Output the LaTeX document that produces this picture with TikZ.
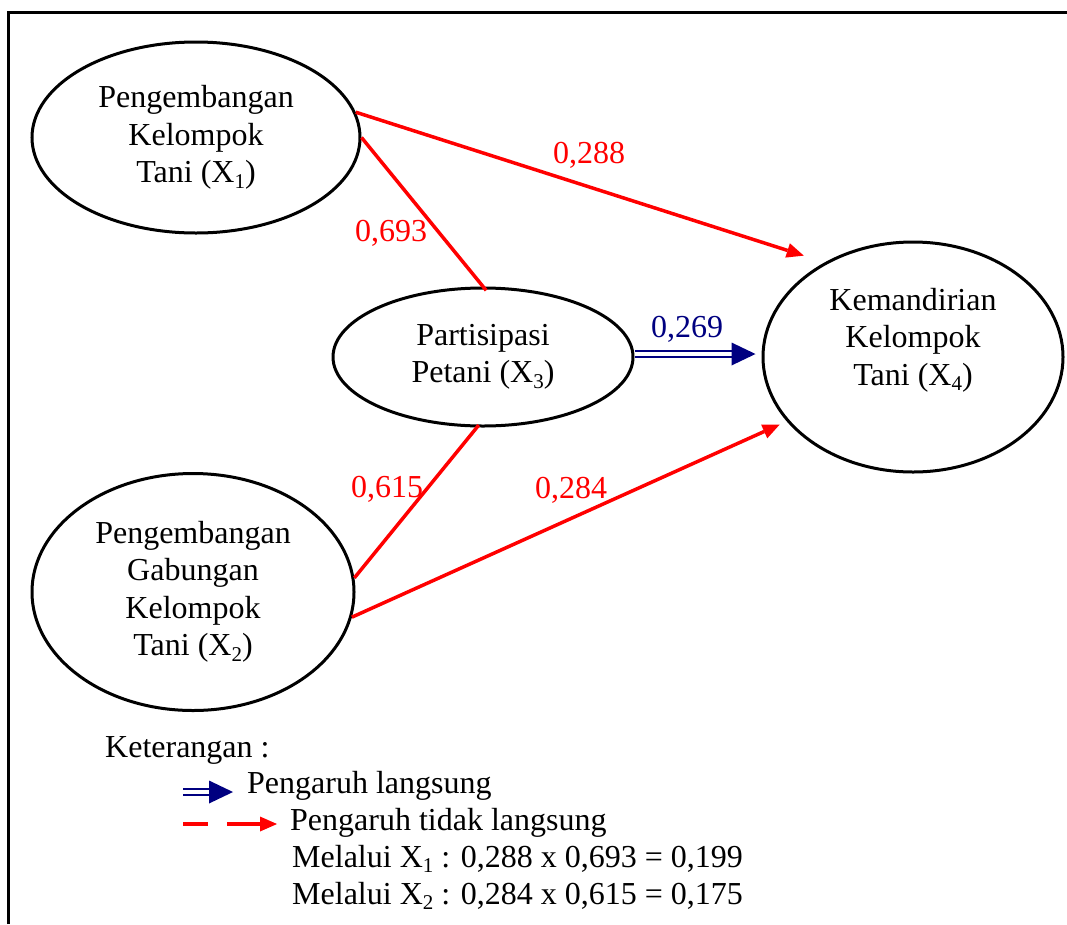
\documentclass[tikz,border=0pt]{standalone}
\usepackage{fontspec}
\setmainfont{Liberation Serif}
\usetikzlibrary{arrows.meta,shapes.geometric}
\definecolor{pathred}{RGB}{255,0,0}
\definecolor{pathblue}{RGB}{0,0,128}
% lowered index digit for the variable names X1..X4
\newcommand\idx[1]{\raisebox{-0.17em}{\fontsize{21}{21}\selectfont #1}}

\begin{document}
\begin{tikzpicture}[x=1pt,y=-1pt,
  every node/.style={font=\fontsize{32}{37.5}\selectfont, inner sep=0pt},
  var/.style={draw, ellipse, line width=3pt, align=center},
  txt/.style={align=center},
  coef/.style={anchor=base},
  legtext/.style={anchor=base west},
  redpath/.style={draw=pathred, line width=3.5pt},
  redarrow/.style={redpath, -{Triangle[length=17pt,width=15pt,line width=0pt]}},
  direct/.style={draw=pathblue, line width=2.8pt, double=white, double distance=3.2pt,
                 -{Triangle[length=24pt,width=23pt,line width=0pt]}}
]
\useasboundingbox (0,0) rectangle (1067,924);

% outer frame (only left and top edges fall inside the page)
\draw[line width=3pt] (8,924) -- (8,12) -- (1067,12);

% variables
\node[var, minimum width=328pt, minimum height=191pt] (x1) at (196,137.5)
  {Pengembangan\\Kelompok\\Tani (X\idx{1})};
\node[var, minimum width=322pt, minimum height=237pt] (x2) at (193,592)
  {Pengembangan\\Gabungan\\Kelompok\\Tani (X\idx{2})};
\node[var, minimum width=300pt, minimum height=138pt] (x3) at (483,357)
  {Partisipasi\\Petani (X\idx{3})};
\node[var, minimum width=300pt, minimum height=230pt] (x4) at (913,357) {};
\node[txt] (x4lbl) at (913,340) {Kemandirian\\Kelompok\\Tani (X\idx{4})};

% paths
\draw[redarrow, shorten >=22pt] (x1.9) -- (x4.133);
\draw[redpath, shorten >=-5pt] (x1.east) -- (x3.north);
\draw[redpath, shorten >=-3pt] (x2.5) -- (x3.265);
\draw[redarrow, shorten >=7.7pt] (x2.-9) -- (x4.207.6);
\draw[direct, shorten >=6pt] ([yshift=3pt]x3.east) -- ([yshift=3pt]x4.west);

% path coefficients
\node[coef, text=pathred] (c288) at (589,163) {0,288};
\node[coef, text=pathred] (c693) at (391,241) {0,693};
\node[coef, text=pathblue] (c269) at (687,337) {0,269};
\node[coef, text=pathred] (c615) at (387,497) {0,615};
\node[coef, text=pathred] (c284) at (571,498) {0,284};

% legend
\node[legtext] (ket) at (105,757) {Keterangan :};
\coordinate (ldA) at (183,792);
\coordinate (ldB) at (233,792);
\draw[direct] (ldA) -- (ldB);
\node[legtext] (ld) at (247,793) {Pengaruh langsung};
\coordinate (liA) at (183,824);
\coordinate (liB) at (277,824);
\draw[redpath, dash pattern=on 25pt off 19pt on 80pt,
      -{Triangle[length=17pt,width=15pt,line width=0pt]}] (liA) -- (liB);
\node[legtext] (li) at (290,830) {Pengaruh tidak langsung};
\node[legtext] (m1) at (292,867) {Melalui X\idx{1} : 0,288 x 0,693 = 0,199};
\node[legtext] (m2) at (292,904) {Melalui X\idx{2} : 0,284 x 0,615 = 0,175};
\end{tikzpicture}
\end{document}
